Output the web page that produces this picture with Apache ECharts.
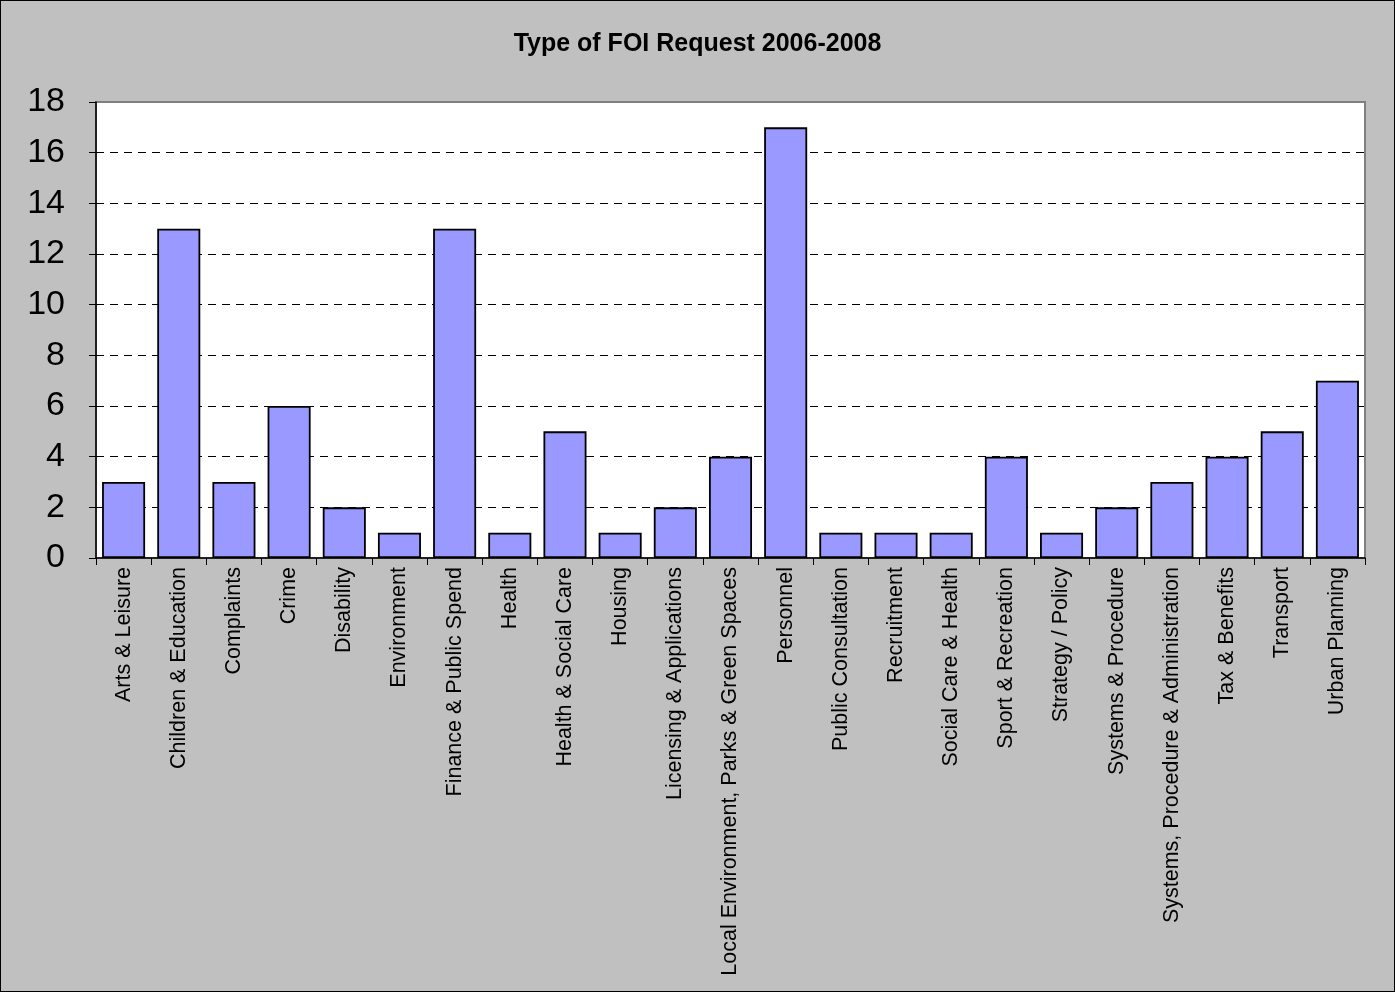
<!DOCTYPE html>
<html>
<head>
<meta charset="utf-8">
<script src="https://cdn.jsdelivr.net/npm/echarts@6/dist/echarts.min.js"></script>
<style>
  html, body { margin: 0; padding: 0; background: #c0c0c0; }
  #chart { width: 1395px; height: 992px; box-sizing: border-box; border: 1px solid #000; }
</style>
</head>
<body>
<div id="chart"></div>
<script>
// categories and counts
var categories = [
  'Arts & Leisure', 'Children & Education', 'Complaints', 'Crime', 'Disability',
  'Environment', 'Finance & Public Spend', 'Health', 'Health & Social Care', 'Housing',
  'Licensing & Applications', 'Local Environment, Parks & Green Spaces', 'Personnel',
  'Public Consultation', 'Recruitment', 'Social Care & Health', 'Sport & Recreation',
  'Strategy / Policy', 'Systems & Procedure', 'Systems, Procedure & Administration',
  'Tax & Benefits', 'Transport', 'Urban Planning'
];
var requests = [3, 13, 3, 6, 2, 1, 13, 1, 5, 1, 2, 4, 17, 1, 1, 1, 4, 1, 2, 3, 4, 5, 7];
var yTicks = { min: 0, max: 18, interval: 2 };

var chart = echarts.init(document.getElementById('chart'));
chart.setOption({
  backgroundColor: '#c0c0c0',
  animation: false,
  title: {
    text: 'Type of FOI Request 2006-2008',
    left: 'center',
    top: 26,
    textStyle: { fontFamily: 'Liberation Sans', fontWeight: 'bold', fontSize: 25, color: '#000' }
  },
  grid: {
    left: 95, right: 29, top: 101, bottom: 433,
    show: true, backgroundColor: '#fff', borderColor: '#808080', borderWidth: 2
  },
  xAxis: {
    type: 'category',
    data: categories,
    axisLine: { lineStyle: { color: '#000', width: 1.5 } },
    axisTick: { show: true, length: 7, lineStyle: { color: '#000' } },
    axisLabel: {
      rotate: 90, interval: 0, margin: 9,
      fontFamily: 'Liberation Sans', fontSize: 21.5, color: '#000'
    }
  },
  yAxis: {
    type: 'value',
    min: yTicks.min, max: yTicks.max, interval: yTicks.interval,
    axisLine: { show: true, lineStyle: { color: '#000', width: 1.5 } },
    axisTick: { show: true, length: 7, lineStyle: { color: '#000' } },
    axisLabel: { margin: 31, fontFamily: 'Liberation Sans', fontSize: 34, color: '#000' },
    splitLine: {
      show: true, showMinLine: false, showMaxLine: false,
      lineStyle: { color: '#000', type: [8, 6], width: 1 }
    }
  },
  series: [{
    type: 'bar',
    data: requests,
    barCategoryGap: '22%',
    itemStyle: { color: '#9999ff', borderColor: '#000', borderWidth: 1.8 }
  }]
});
</script>
</body>
</html>
